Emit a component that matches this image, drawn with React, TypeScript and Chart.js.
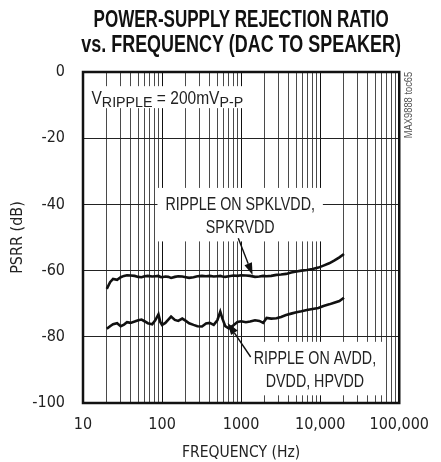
import React, { useEffect, useRef } from 'react';
import { Chart, registerables } from 'chart.js';

Chart.register(...registerables);

const COND = '"DejaVu Sans Condensed", "Liberation Sans Narrow", sans-serif';
const SANS = '"Liberation Sans", Arial, Helvetica, sans-serif';

const titleLines = ['POWER-SUPPLY REJECTION RATIO', 'vs. FREQUENCY (DAC TO SPEAKER)'];
const xAxisTitle = 'FREQUENCY (Hz)';
const yAxisTitle = 'PSRR (dB)';
const sideNote = 'MAX9888 toc65';

const xTickValues = [
  10, 20, 30, 40, 50, 60, 70, 80, 90,
  100, 200, 300, 400, 500, 600, 700, 800, 900,
  1000, 2000, 3000, 4000, 5000, 6000, 7000, 8000, 9000,
  10000, 20000, 30000, 40000, 50000, 60000, 70000, 80000, 90000,
  100000,
];
const xDecadeValues = [10, 100, 1000, 10000, 100000];
const xDecadeLabels = ['10', '100', '1000', '10,000', '100,000'];
const yMin = -100;
const yMax = 0;
const yStep = 20;

const freqHz = [
  20, 22, 24, 27, 30, 33, 36, 40, 45, 50, 55, 60, 66, 75, 82, 90, 95, 100,
  110, 120, 130, 145, 160, 180, 200, 220, 250, 280, 320, 360, 400, 450, 500,
  545, 580, 630, 700, 800, 900, 1000, 1150, 1300, 1500, 1700, 1900, 2100,
  2400, 2800, 3200, 3700, 4300, 5000, 5800, 6800, 8000, 9500, 11000, 13000,
  15000, 17500, 20000,
];

const psrrSpeaker = [
  -65.5, -63.5, -62.5, -62.8, -62.0, -61.6, -61.4, -61.5, -61.6, -61.9, -62.0, -61.7, -61.6, -61.8, -61.7, -61.6, -61.9, -62.0,
  -61.8, -61.9, -62.2, -61.9, -61.7, -61.8, -62.0, -62.2, -62.0, -61.7, -61.6, -61.7, -61.6, -61.8, -61.7,
  -61.6, -61.8, -61.9, -61.7, -61.5, -61.6, -61.4, -61.5, -61.6, -61.9, -61.8, -61.6, -61.7,
  -61.6, -61.3, -61.2, -61.0, -60.6, -60.3, -60.0, -59.8, -59.5, -59.1, -58.5, -57.8,
  -57.0, -56.0, -55.0,
];

const psrrAnalog = [
  -77.6, -76.8, -76.2, -75.9, -76.8, -76.3, -75.6, -75.8, -75.4, -75.0, -74.8, -75.3, -75.9, -76.2, -75.0, -73.2, -75.5, -76.4,
  -75.8, -74.8, -73.9, -74.9, -75.2, -74.5, -75.2, -75.9, -76.4, -76.8, -76.9, -76.0, -75.8, -76.4, -75.0,
  -72.4, -74.5, -76.8, -77.5, -76.5, -75.5, -75.3, -75.6, -75.4, -75.0, -75.2, -75.8, -74.3,
  -74.5, -74.4, -74.0, -73.4, -73.0, -72.6, -72.3, -71.9, -71.6, -71.3, -70.7, -70.2,
  -69.7, -69.2, -68.2,
];

const seriesNames = ['RIPPLE ON SPKLVDD, SPKRVDD', 'RIPPLE ON AVDD, DVDD, HPVDD'];

// annotations, placed in data units (Hz, dB)
const speakerLabelLines = ['RIPPLE ON SPKLVDD,', 'SPKRVDD'];
const speakerLabelAt = [973, -43.1];
const speakerArrowFrom = [920, -50.2];
const speakerArrowTo = [1396, -61.3];

const analogLabelLines = ['RIPPLE ON AVDD,', 'DVDD, HPVDD'];
const analogLabelAt = [8570, -89.6];
const analogArrowFrom = [1321, -86.1];
const analogArrowTo = [676, -75.8];

const rippleNoteAt = [12.8, -7.6];
const rippleNoteParts = [
  { text: 'V', sub: false },
  { text: 'RIPPLE', sub: true },
  { text: ' = 200mV', sub: false },
  { text: 'P-P', sub: true },
];

function textW(ctx: CanvasRenderingContext2D, text: string, font: string, sx: number) {
  ctx.font = font;
  return ctx.measureText(text).width * sx;
}

function drawText(
  ctx: CanvasRenderingContext2D,
  text: string,
  x: number,
  y: number,
  font: string,
  sx: number,
  align: CanvasTextAlign,
  baseline: CanvasTextBaseline,
) {
  ctx.save();
  ctx.font = font;
  ctx.textAlign = align;
  ctx.textBaseline = baseline;
  ctx.translate(x, y);
  ctx.scale(sx, 1);
  ctx.fillText(text, 0, 0);
  ctx.restore();
}

function drawArrow(ctx: CanvasRenderingContext2D, x1: number, y1: number, x2: number, y2: number) {
  const ang = Math.atan2(y2 - y1, x2 - x1);
  const headLen = 12;
  const headW = 4;
  const bx = x2 - headLen * Math.cos(ang);
  const by = y2 - headLen * Math.sin(ang);
  ctx.save();
  ctx.strokeStyle = '#111';
  ctx.fillStyle = '#111';
  ctx.lineWidth = 1.4;
  ctx.beginPath();
  ctx.moveTo(x1, y1);
  ctx.lineTo(bx, by);
  ctx.stroke();
  ctx.beginPath();
  ctx.moveTo(x2, y2);
  ctx.lineTo(bx + headW * Math.sin(ang), by - headW * Math.cos(ang));
  ctx.lineTo(bx - headW * Math.sin(ang), by + headW * Math.cos(ang));
  ctx.closePath();
  ctx.fill();
  ctx.restore();
}

const LABEL_FONT = `19px ${SANS}`;
const LABEL_SX = 0.75;

function drawLabelBox(ctx: CanvasRenderingContext2D, lines: string[], cx: number, cy: number) {
  const gap = 22.5;
  const w = Math.max(...lines.map((l) => textW(ctx, l, LABEL_FONT, LABEL_SX)));
  const h = gap * (lines.length - 1) + 17;
  ctx.save();
  ctx.fillStyle = '#fff';
  ctx.fillRect(cx - w / 2 - 8, cy - h / 2 - 7, w + 16, h + 14);
  ctx.fillStyle = '#222';
  lines.forEach((l, i) => {
    drawText(ctx, l, cx, cy - (gap * (lines.length - 1)) / 2 + i * gap + 7, LABEL_FONT, LABEL_SX, 'center', 'alphabetic');
  });
  ctx.restore();
}

const annotationPlugin = {
  id: 'psrrAnnotations',
  beforeDatasetsDraw(chart: any) {
    const ctx: CanvasRenderingContext2D = chart.ctx;
    const xs = chart.scales.x;
    const ys = chart.scales.y;
    drawLabelBox(ctx, speakerLabelLines, xs.getPixelForValue(speakerLabelAt[0]), ys.getPixelForValue(speakerLabelAt[1]));
    drawLabelBox(ctx, analogLabelLines, xs.getPixelForValue(analogLabelAt[0]), ys.getPixelForValue(analogLabelAt[1]));

    // ripple note
    const x0 = xs.getPixelForValue(rippleNoteAt[0]);
    const y0 = ys.getPixelForValue(rippleNoteAt[1]);
    const mainFont = `18.5px ${SANS}`;
    const subFont = `15px ${SANS}`;
    const mainSx = 0.84;
    const subSx = 0.95;
    const widths = rippleNoteParts.map((p) =>
      p.sub ? textW(ctx, p.text, subFont, subSx) : textW(ctx, p.text, mainFont, mainSx),
    );
    const total = widths.reduce((a, b) => a + b, 0);
    ctx.save();
    ctx.fillStyle = '#fff';
    ctx.fillRect(x0 - 3, y0 - 11, total + 6, 22);
    ctx.fillStyle = '#222';
    let x = x0;
    const base = y0 + 6.5;
    rippleNoteParts.forEach((p, i) => {
      if (p.sub) drawText(ctx, p.text, x, base + 3, subFont, subSx, 'left', 'alphabetic');
      else drawText(ctx, p.text, x, base, mainFont, mainSx, 'left', 'alphabetic');
      x += widths[i];
    });
    ctx.restore();
  },
  afterDatasetsDraw(chart: any) {
    const ctx: CanvasRenderingContext2D = chart.ctx;
    const xs = chart.scales.x;
    const ys = chart.scales.y;
    drawArrow(ctx, xs.getPixelForValue(speakerArrowFrom[0]), ys.getPixelForValue(speakerArrowFrom[1]),
      xs.getPixelForValue(speakerArrowTo[0]), ys.getPixelForValue(speakerArrowTo[1]));
    drawArrow(ctx, xs.getPixelForValue(analogArrowFrom[0]), ys.getPixelForValue(analogArrowFrom[1]),
      xs.getPixelForValue(analogArrowTo[0]), ys.getPixelForValue(analogArrowTo[1]));

    const { left, right, top, bottom } = chart.chartArea;
    ctx.save();
    ctx.strokeStyle = '#111';
    ctx.lineWidth = 2.5;
    ctx.strokeRect(left, top, right - left, bottom - top);
    ctx.restore();
  },
  afterDraw(chart: any) {
    const ctx: CanvasRenderingContext2D = chart.ctx;
    const { left, right, top } = chart.chartArea;
    const cx = (left + right) / 2;
    ctx.save();
    ctx.fillStyle = '#111';
    const titleSx = [0.74, 0.78];
    titleLines.forEach((t, i) => {
      drawText(ctx, t, cx, 21 + i * 25, `bold 23px ${SANS}`, titleSx[i], 'center', 'middle');
    });
    // side note
    ctx.save();
    ctx.fillStyle = '#555';
    ctx.font = `11px ${SANS}`;
    ctx.textAlign = 'center';
    ctx.textBaseline = 'middle';
    ctx.translate(right + 10, top + 33);
    ctx.rotate(-Math.PI / 2);
    ctx.scale(0.85, 1);
    ctx.fillText(sideNote, 0, 0);
    ctx.restore();
    ctx.restore();
  },
};

export default function App() {
  const ref = useRef<HTMLCanvasElement | null>(null);
  useEffect(() => {
    document.body.style.margin = '0';
    if (!ref.current) return;
    const chart = new Chart(ref.current, {
      type: 'line',
      data: {
        datasets: [
          {
            label: seriesNames[0],
            data: freqHz.map((f, i) => ({ x: f, y: psrrSpeaker[i] })),
            borderColor: '#111',
            borderWidth: 2.6,
            pointRadius: 0,
            tension: 0,
            fill: false,
          },
          {
            label: seriesNames[1],
            data: freqHz.map((f, i) => ({ x: f, y: psrrAnalog[i] })),
            borderColor: '#111',
            borderWidth: 2.6,
            pointRadius: 0,
            tension: 0,
            fill: false,
          },
        ],
      },
      options: {
        animation: false,
        responsive: false,
        devicePixelRatio: 1,
        layout: { padding: { top: 72, right: 28, left: 0, bottom: 0 } },
        plugins: {
          legend: { display: false },
          tooltip: { enabled: false },
          title: { display: false },
        },
        scales: {
          x: {
            type: 'logarithmic',
            min: 10,
            max: 100000,
            afterBuildTicks: (scale: any) => {
              scale.ticks = xTickValues.map((v) => ({ value: v }));
            },
            afterFit: (scale: any) => {
              scale.height = 59;
            },
            border: { display: false },
            grid: {
              drawTicks: false,
              lineWidth: 1,
              color: (c: any) => (xDecadeValues.includes(c.tick?.value) ? '#111' : '#4a4a4a'),
            },
            ticks: {
              autoSkip: false,
              maxRotation: 0,
              padding: 12,
              color: '#222',
              font: { family: COND, size: 16 },
              callback: (v: any) => {
                const idx = xDecadeValues.indexOf(Number(v));
                return idx >= 0 ? xDecadeLabels[idx] : '';
              },
            },
            title: {
              display: true,
              text: xAxisTitle,
              color: '#222',
              font: { family: COND, size: 15.5 },
              padding: { top: 0, bottom: 0 },
            },
          },
          y: {
            type: 'linear',
            min: yMin,
            max: yMax,
            afterFit: (scale: any) => {
              scale.width = 83;
            },
            border: { display: false },
            grid: { drawTicks: false, color: '#222', lineWidth: 1 },
            ticks: {
              stepSize: yStep,
              padding: 18,
              color: '#222',
              font: { family: COND, size: 16 },
            },
            title: {
              display: true,
              text: yAxisTitle,
              color: '#222',
              font: { family: COND, size: 16 },
              padding: { top: 8, bottom: 0 },
            },
          },
        },
      },
      plugins: [annotationPlugin],
    } as any);
    return () => chart.destroy();
  }, []);
  return (
    <div style={{ width: 441, height: 462 }}>
      <canvas ref={ref} width={441} height={462} style={{ width: 441, height: 462, display: 'block' }} />
    </div>
  );
}
